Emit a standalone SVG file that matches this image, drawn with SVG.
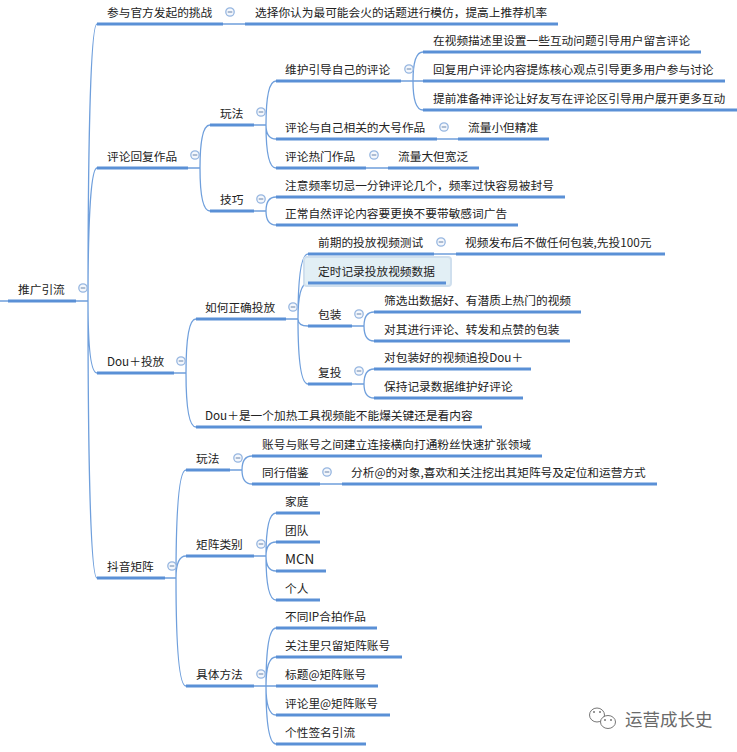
<svg xmlns="http://www.w3.org/2000/svg" width="737" height="752" viewBox="0 0 737 752">
<style>
text{font-family:"Noto Sans CJK SC","Microsoft YaHei","Liberation Sans",sans-serif;font-size:11.7px;fill:#222}
.u{stroke:#5a90d6;stroke-width:3;fill:none}
.c{stroke:#6f9fdc;stroke-width:1.3;fill:none}
.ic{fill:#f4f7fc;stroke:#96b6e0;stroke-width:1.3}
.im{stroke:#7f97b8;stroke-width:1.2}
.hl{fill:#e2eff5;stroke:#cfdfee;stroke-width:2}
.wm{font-size:17.5px;fill:#6a6a6a}
.wi{fill:#fff;stroke:#777;stroke-width:1}
.wd{fill:#777}
.mcn{font-size:13.5px}
</style>
<defs>
<g id="toggle"><circle class="ic" r="4.2"/><line class="im" x1="-2.3" x2="2.3" y1="0" y2="0"/></g>
</defs>
<g id="connectors">
<path class="c" d="M0 301H8M76 301H88M88 301C88 162 90 24 97 24M88 301C88 234 90 168 97 168M88 301C88 337 90 373 97 373M88 301C88 440 90 578 97 578"/>
<path class="c" d="M223 24H245M188 168H200M200 168C200 146 202 125 210 125M200 168C200 190 202 211 210 211"/>
<path class="c" d="M254 125H266M266 125C266 103 268 81 276 81M266 125C266 132 268 139 276 139M266 125C266 146 268 168 276 168"/>
<path class="c" d="M254 211H266M266 211C266 204 268 197 276 197M266 211C266 218 268 225 276 225"/>
<path class="c" d="M401 81H423M413 81C413 66 415 52 423 52M413 81C413 96 415 110 423 110"/>
<path class="c" d="M437 139H458M366 168H388M434 254H456M320 484H342"/>
<path class="c" d="M174 373H186M186 373C186 346 188 319 196 319M186 373C186 400 188 427 196 427"/>
<path class="c" d="M286 319H298M298 319C298 286 300 254 308 254M298 319C298 301 300 283 308 283M298 319C298 322 300 326 308 326M298 319C298 351 300 384 308 384"/>
<path class="c" d="M352 326H364M364 326C364 319 366 312 374 312M364 326C364 333 366 341 374 341"/>
<path class="c" d="M352 384H364M364 384C364 376 366 369 374 369M364 384C364 391 366 398 374 398"/>
<path class="c" d="M165 578H176M176 578C176 524 178 470 186 470M176 578C176 567 178 556 186 556M176 578C176 632 178 686 186 686"/>
<path class="c" d="M230 470H242M242 470C242 463 244 456 252 456M242 470C242 477 244 484 252 484"/>
<path class="c" d="M254 556H266M266 556C266 534 268 513 276 513M266 556C266 549 268 542 276 542M266 556C266 563 268 571 276 571M266 556C266 578 268 600 276 600"/>
<path class="c" d="M254 686H276M266 686C266 657 268 628 276 628M266 686C266 671 268 657 276 657M266 686C266 700 268 715 276 715M266 686C266 715 268 744 276 744"/>
</g>
<g id="n-root"><line class="u" x1="8" x2="76" y1="301" y2="301"/><text x="18" y="294">推广引流</text><use href="#toggle" x="83" y="288"/></g>
<g id="n-challenge"><line class="u" x1="97" x2="223" y1="24" y2="24"/><text x="107" y="17">参与官方发起的挑战</text><use href="#toggle" x="230" y="12"/></g>
<g id="n-challenge-1"><line class="u" x1="245" x2="558" y1="24" y2="24"/><text x="255" y="17">选择你认为最可能会火的话题进行模仿，提高上推荐机率</text></g>
<g id="n-comment"><line class="u" x1="97" x2="188" y1="168" y2="168"/><text x="107" y="161">评论回复作品</text><use href="#toggle" x="195" y="155"/></g>
<g id="n-play"><line class="u" x1="210" x2="254" y1="125" y2="125"/><text x="220" y="118">玩法</text><use href="#toggle" x="261" y="112"/></g>
<g id="n-tips"><line class="u" x1="210" x2="254" y1="211" y2="211"/><text x="220" y="204">技巧</text><use href="#toggle" x="261" y="199"/></g>
<g id="n-maintain"><line class="u" x1="276" x2="401" y1="81" y2="81"/><text x="285" y="74">维护引导自己的评论</text><use href="#toggle" x="409" y="69"/></g>
<g id="n-m1"><line class="u" x1="423" x2="701" y1="52" y2="52"/><text x="433" y="45">在视频描述里设置一些互动问题引导用户留言评论</text></g>
<g id="n-m2"><line class="u" x1="423" x2="725" y1="81" y2="81"/><text x="433" y="74">回复用户评论内容提炼核心观点引导更多用户参与讨论</text></g>
<g id="n-m3"><line class="u" x1="423" x2="737" y1="110" y2="110"/><text x="433" y="103">提前准备神评论让好友写在评论区引导用户展开更多互动</text></g>
<g id="n-related"><line class="u" x1="276" x2="437" y1="139" y2="139"/><text x="285" y="132">评论与自己相关的大号作品</text><use href="#toggle" x="444" y="127"/></g>
<g id="n-related-1"><line class="u" x1="458" x2="549" y1="139" y2="139"/><text x="468" y="132">流量小但精准</text></g>
<g id="n-hot"><line class="u" x1="276" x2="366" y1="168" y2="168"/><text x="285" y="161">评论热门作品</text><use href="#toggle" x="374" y="155"/></g>
<g id="n-hot-1"><line class="u" x1="388" x2="479" y1="168" y2="168"/><text x="398" y="161">流量大但宽泛</text></g>
<g id="n-t1"><line class="u" x1="276" x2="565" y1="197" y2="197"/><text x="285" y="190">注意频率切忌一分钟评论几个，频率过快容易被封号</text></g>
<g id="n-t2"><line class="u" x1="276" x2="518" y1="225" y2="225"/><text x="285" y="218">正常自然评论内容要更换不要带敏感词广告</text></g>
<g id="n-dou"><line class="u" x1="97" x2="174" y1="373" y2="373"/><text x="107" y="366">Dou＋投放</text><use href="#toggle" x="181" y="361"/></g>
<g id="n-how"><line class="u" x1="196" x2="286" y1="319" y2="319"/><text x="205" y="312">如何正确投放</text><use href="#toggle" x="293" y="307"/></g>
<g id="n-early"><line class="u" x1="308" x2="434" y1="254" y2="254"/><text x="318" y="247">前期的投放视频测试</text><use href="#toggle" x="441" y="242"/></g>
<g id="n-early-1"><line class="u" x1="456" x2="665" y1="254" y2="254"/><text x="465" y="247">视频发布后不做任何包装,先投100元</text></g>
<g id="n-timing"><rect class="hl" x="304" y="257" width="147" height="29" rx="3"/><line class="u" x1="308" x2="446" y1="283" y2="283"/><text x="318" y="276">定时记录投放视频数据</text></g>
<g id="n-pack"><line class="u" x1="308" x2="352" y1="326" y2="326"/><text x="318" y="319">包装</text><use href="#toggle" x="359" y="314"/></g>
<g id="n-p1"><line class="u" x1="374" x2="581" y1="312" y2="312"/><text x="384" y="305">筛选出数据好、有潜质上热门的视频</text></g>
<g id="n-p2"><line class="u" x1="374" x2="570" y1="341" y2="341"/><text x="384" y="334">对其进行评论、转发和点赞的包装</text></g>
<g id="n-repeat"><line class="u" x1="308" x2="352" y1="384" y2="384"/><text x="318" y="377">复投</text><use href="#toggle" x="359" y="371"/></g>
<g id="n-r1"><line class="u" x1="374" x2="531" y1="369" y2="369"/><text x="384" y="362">对包装好的视频追投Dou＋</text></g>
<g id="n-r2"><line class="u" x1="374" x2="523" y1="398" y2="398"/><text x="384" y="391">保持记录数据维护好评论</text></g>
<g id="n-heat"><line class="u" x1="196" x2="482" y1="427" y2="427"/><text x="205" y="420">Dou＋是一个加热工具视频能不能爆关键还是看内容</text></g>
<g id="n-matrix"><line class="u" x1="97" x2="165" y1="578" y2="578"/><text x="107" y="571">抖音矩阵</text><use href="#toggle" x="172" y="566"/></g>
<g id="n-mplay"><line class="u" x1="186" x2="230" y1="470" y2="470"/><text x="196" y="463">玩法</text><use href="#toggle" x="238" y="458"/></g>
<g id="n-mp1"><line class="u" x1="252" x2="542" y1="456" y2="456"/><text x="262" y="449">账号与账号之间建立连接横向打通粉丝快速扩张领域</text></g>
<g id="n-peer"><line class="u" x1="252" x2="320" y1="484" y2="484"/><text x="262" y="477">同行借鉴</text><use href="#toggle" x="327" y="472"/></g>
<g id="n-peer-1"><line class="u" x1="342" x2="657" y1="484" y2="484"/><text x="351" y="477">分析@的对象,喜欢和关注挖出其矩阵号及定位和运营方式</text></g>
<g id="n-types"><line class="u" x1="186" x2="254" y1="556" y2="556"/><text x="196" y="549">矩阵类别</text><use href="#toggle" x="261" y="544"/></g>
<g id="n-family"><line class="u" x1="276" x2="320" y1="513" y2="513"/><text x="285" y="506">家庭</text></g>
<g id="n-team"><line class="u" x1="276" x2="320" y1="542" y2="542"/><text x="285" y="535">团队</text></g>
<g id="n-mcn"><line class="u" x1="276" x2="326" y1="571" y2="571"/><text class="mcn" x="285" y="564">MCN</text></g>
<g id="n-person"><line class="u" x1="276" x2="320" y1="600" y2="600"/><text x="285" y="593">个人</text></g>
<g id="n-method"><line class="u" x1="186" x2="254" y1="686" y2="686"/><text x="196" y="679">具体方法</text><use href="#toggle" x="261" y="674"/></g>
<g id="n-ip"><line class="u" x1="276" x2="377" y1="628" y2="628"/><text x="285" y="621">不同IP合拍作品</text></g>
<g id="n-follow"><line class="u" x1="276" x2="402" y1="657" y2="657"/><text x="285" y="650">关注里只留矩阵账号</text></g>
<g id="n-title"><line class="u" x1="276" x2="378" y1="686" y2="686"/><text x="285" y="679">标题@矩阵账号</text></g>
<g id="n-cmt"><line class="u" x1="276" x2="390" y1="715" y2="715"/><text x="285" y="708">评论里@矩阵账号</text></g>
<g id="n-sign"><line class="u" x1="276" x2="366" y1="744" y2="744"/><text x="285" y="737">个性签名引流</text></g>
<g id="watermark">
<ellipse class="wi" cx="597" cy="715" rx="7.5" ry="7"/>
<circle class="wd" cx="594" cy="712" r="1"/><circle class="wd" cx="600" cy="712" r="1"/>
<ellipse class="wi" cx="608" cy="722" rx="7.5" ry="6.5"/>
<circle class="wd" cx="605" cy="720" r="1"/><circle class="wd" cx="611" cy="720" r="1"/>
<text class="wm" x="625" y="726">运营成长史</text>
</g>
</svg>
